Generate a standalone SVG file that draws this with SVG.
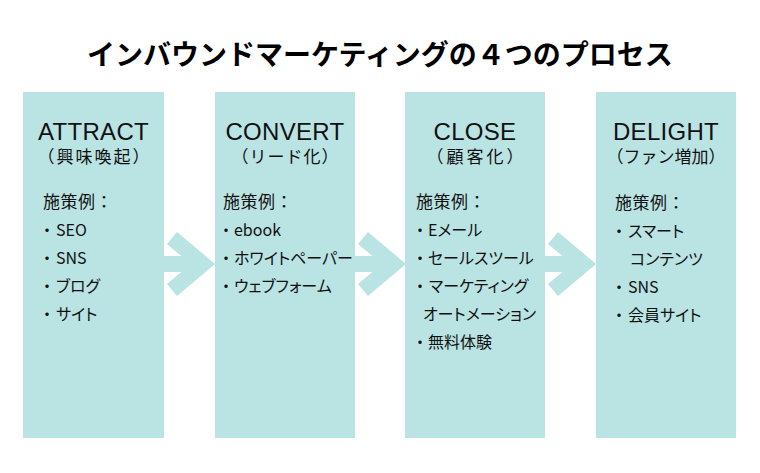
<svg xmlns="http://www.w3.org/2000/svg" width="760" height="473" viewBox="0 0 760 473">
<defs>
<style>
.box{fill:#bae3e3}
.arw{fill:#bae3e3}
.title{font-family:"Noto Sans CJK JP","Noto Sans",sans-serif;font-weight:700;font-size:28px;fill:#000;text-anchor:middle}
.hd{font-family:"Liberation Sans","Noto Sans",sans-serif;font-size:24px;fill:#111;text-anchor:middle;letter-spacing:0.3px}
.sub{font-family:"Noto Sans CJK JP",sans-serif;font-size:17px;fill:#111;text-anchor:middle}
.lbl{font-family:"Noto Sans CJK JP",sans-serif;font-size:17px;fill:#111;letter-spacing:0.5px}
.it{font-family:"Noto Sans CJK JP",sans-serif;font-size:16px;fill:#111;font-feature-settings:"palt"}
.bl{font-family:"Noto Sans CJK JP",sans-serif;font-size:16px;fill:#111;text-anchor:middle}
</style>
<g id="chev">
<rect x="0" y="-8" width="38" height="16"/>
<polygon points="13,-32 51,0 13,32 3,20 27,0 3,-20"/>
</g>
</defs>
<rect width="760" height="473" fill="#fff"/>
<text class="title" x="380" y="65">インバウンドマーケティングの４つのプロセス</text>

<g id="connectors" class="arw">
<use href="#chev" x="164" y="264"/>
<use href="#chev" x="355" y="264"/>
<use href="#chev" x="545" y="264"/>
</g>

<g id="attract">
<rect class="box" x="23" y="92" width="141" height="346"/>
<text class="hd" x="93.5" y="140">ATTRACT</text>
<text class="sub" x="94.5" y="163" style="letter-spacing:2px">（興味喚起）</text>
<text class="lbl" x="43" y="207.5">施策例：</text>
<text class="bl" x="47" y="235.5">・</text><text class="it" x="56" y="235.5">SEO</text>
<text class="bl" x="47" y="263.5">・</text><text class="it" x="56" y="263.5">SNS</text>
<text class="bl" x="47" y="291.5">・</text><text class="it" x="56" y="291.5">ブログ</text>
<text class="bl" x="47" y="319.5">・</text><text class="it" x="56" y="319.5">サイト</text>
</g>

<g id="convert">
<rect class="box" x="215" y="92" width="140" height="346"/>
<text class="hd" x="285" y="140">CONVERT</text>
<text class="sub" x="285.5" y="163" style="letter-spacing:1px">（リード化）</text>
<text class="lbl" x="223" y="207.5">施策例：</text>
<text class="bl" x="226" y="235.5">・</text><text class="it" x="234" y="235.5">ebook</text>
<text class="bl" x="226" y="263.5">・</text><text class="it" x="234" y="263.5">ホワイトペーパー</text>
<text class="bl" x="226" y="291.5">・</text><text class="it" x="234" y="291.5">ウェブフォーム</text>
</g>

<g id="close">
<rect class="box" x="405" y="92" width="140" height="346"/>
<text class="hd" x="475" y="140">CLOSE</text>
<text class="sub" x="476.5" y="163" style="letter-spacing:3px">（顧客化）</text>
<text class="lbl" x="416" y="207.5">施策例：</text>
<text class="bl" x="420" y="235.5">・</text><text class="it" x="428" y="235.5">Eメール</text>
<text class="bl" x="420" y="263.5">・</text><text class="it" x="428" y="263.5">セールスツール</text>
<text class="bl" x="420" y="291.5">・</text><text class="it" x="429" y="291.5">マーケティング</text>
<text class="it" x="423" y="319.5">オートメーション</text>
<text class="bl" x="420" y="347.5">・</text><text class="it" x="428" y="347.5">無料体験</text>
</g>

<g id="delight">
<rect class="box" x="596" y="92" width="140" height="346"/>
<text class="hd" x="666" y="140">DELIGHT</text>
<text class="sub" x="666" y="163">（ファン増加）</text>
<text class="lbl" x="615" y="208.5">施策例：</text>
<text class="bl" x="619" y="236.5">・</text><text class="it" x="628" y="236.5">スマート</text>
<text class="it" x="630" y="264.5">コンテンツ</text>
<text class="bl" x="619" y="292.5">・</text><text class="it" x="628" y="292.5">SNS</text>
<text class="bl" x="619" y="320.5">・</text><text class="it" x="628" y="320.5">会員サイト</text>
</g>
</svg>
